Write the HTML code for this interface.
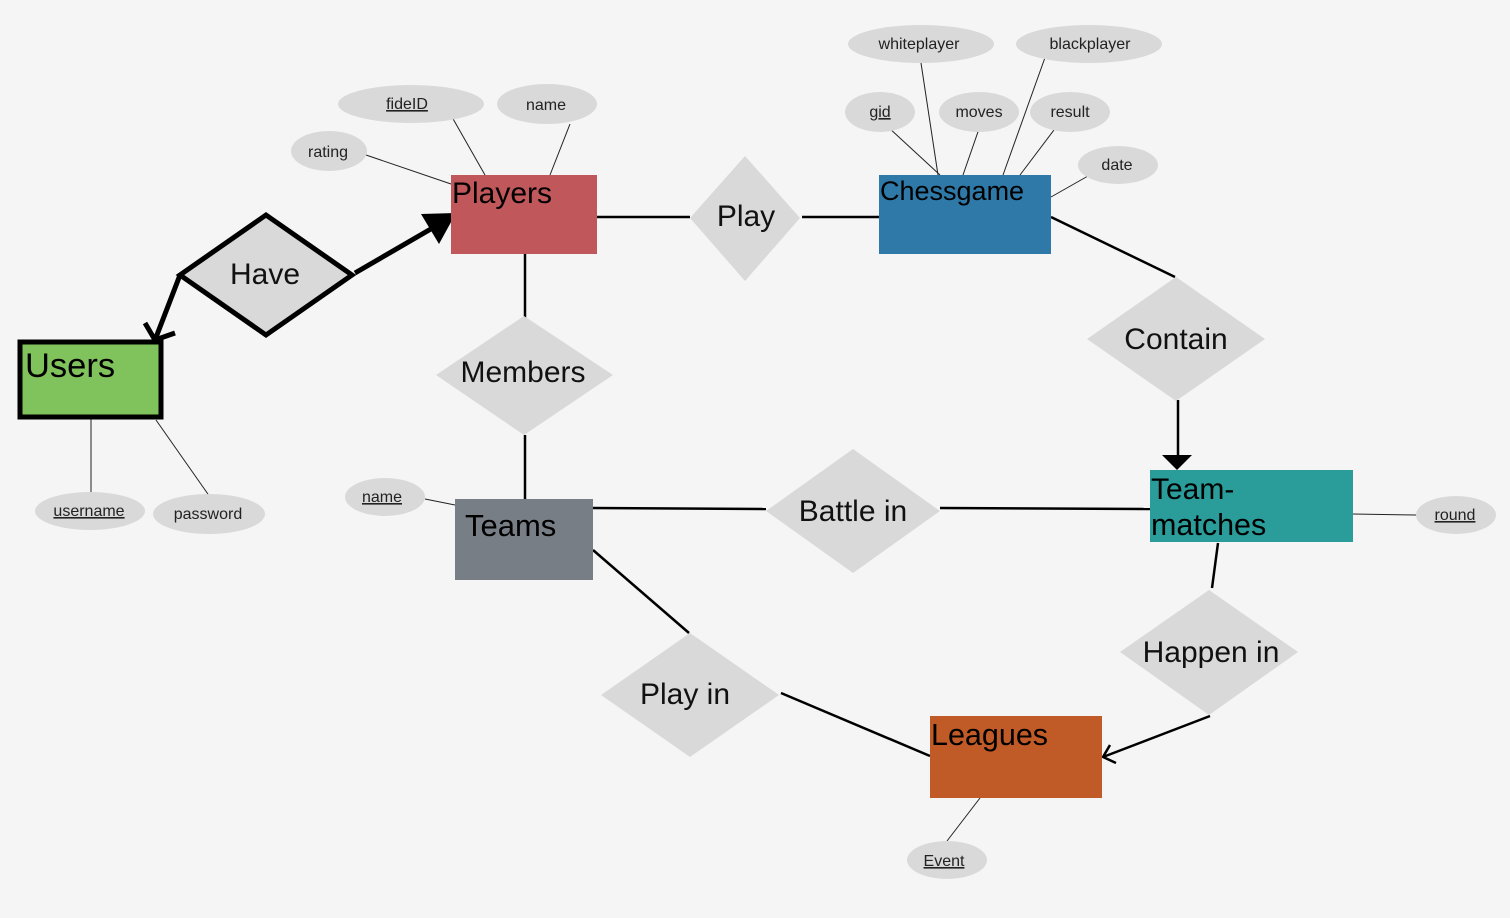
<!DOCTYPE html>
<html><head><meta charset="utf-8"><style>
html,body{margin:0;padding:0;background:#f5f5f5;}
svg{display:block;font-family:"Liberation Sans",sans-serif;}
.a{font-size:16px;fill:#222;text-anchor:middle;}
.e{fill:#000;}
.r{font-size:30px;fill:#111;text-anchor:middle;}
</style></head><body>
<svg width="1510" height="918" viewBox="0 0 1510 918" xmlns="http://www.w3.org/2000/svg">
<rect width="1510" height="918" fill="#f5f5f5"/>
<g stroke="#222" stroke-width="1" fill="none">
<line x1="452" y1="117" x2="485" y2="175"/>
<line x1="570" y1="124" x2="550" y2="175"/>
<line x1="366" y1="155" x2="451" y2="184"/>
<line x1="921" y1="63" x2="938" y2="175"/>
<line x1="1047" y1="52" x2="1003" y2="175"/>
<line x1="888" y1="127" x2="940" y2="175"/>
<line x1="980" y1="126" x2="963" y2="175"/>
<line x1="1057" y1="126" x2="1020" y2="175"/>
<line x1="1088" y1="176" x2="1051" y2="197"/>
<line x1="91" y1="417" x2="91" y2="492"/>
<line x1="156" y1="420" x2="210" y2="497"/>
<line x1="425" y1="499" x2="455" y2="505"/>
<line x1="1353" y1="514" x2="1416" y2="515"/>
<line x1="980" y1="798" x2="947" y2="841"/>
</g>
<g stroke="#000" stroke-width="2.5" fill="none">
<line x1="597" y1="217" x2="690" y2="217"/>
<line x1="802" y1="217" x2="879" y2="217"/>
<line x1="525" y1="254" x2="525" y2="320"/>
<line x1="525" y1="435" x2="525" y2="502"/>
<line x1="1051" y1="217" x2="1175" y2="277"/>
<line x1="1178" y1="400" x2="1178" y2="458"/>
<line x1="593" y1="508" x2="766" y2="509"/>
<line x1="940" y1="508" x2="1150" y2="509"/>
<line x1="1218" y1="543" x2="1212" y2="588"/>
<line x1="1210" y1="716" x2="1103" y2="757"/>
<polyline points="1116,763 1103,757 1110,745"/>
<line x1="593" y1="550" x2="689" y2="633"/>
<line x1="781" y1="693" x2="930" y2="756"/>
</g>
<polygon points="1162,455 1192,455 1177,470" fill="#000"/>
<g stroke="#000" stroke-width="5" fill="none">
<line x1="355" y1="273" x2="436" y2="226"/>
<polyline points="180,275 155,340"/>
<polyline points="145,323 155,340 175,333"/>
</g>
<polygon points="421,214 456,213 439,244" fill="#000"/>
<rect x="451" y="175" width="146" height="79" fill="#c0575a"/>
<rect x="879" y="175" width="172" height="79" fill="#2e79a7"/>
<rect x="20" y="342" width="141" height="75" fill="#80c25c" stroke="#000" stroke-width="5"/>
<rect x="455" y="499" width="138" height="81" fill="#787e85"/>
<rect x="1150" y="470" width="203" height="72" fill="#2a9c9a"/>
<rect x="930" y="716" width="172" height="82" fill="#c05a27"/>
<text x="452" y="203" class="e" style="font-size:30px">Players</text>
<text x="880" y="200" class="e" style="font-size:27px">Chessgame</text>
<text x="25" y="377" class="e" style="font-size:34.5px">Users</text>
<text x="465" y="536" class="e" style="font-size:31px">Teams</text>
<text x="1151" y="499" class="e" style="font-size:30px">Team-</text>
<text x="1151" y="535" class="e" style="font-size:30.5px">matches</text>
<text x="931" y="745" class="e" style="font-size:30.5px">Leagues</text>
<g fill="#d9d9d9">
<polygon points="745,156 800,218 745,281 690,218"/>
<polygon points="524,316 613,375 524,435 436,375"/>
<polygon points="1176,277 1265,339 1176,401 1087,339"/>
<polygon points="853,449 940,511 853,573 766,511"/>
<polygon points="1209,590 1298,652 1209,715 1120,652"/>
<polygon points="690,633 779,695 690,757 601,695"/>
</g>
<polygon points="266,215 352,275 266,335 180,275" fill="#d9d9d9" stroke="#000" stroke-width="5"/>
<text x="746" y="226" class="r">Play</text>
<text x="265" y="284" class="r">Have</text>
<text x="523" y="382" class="r">Members</text>
<text x="1176" y="349" class="r">Contain</text>
<text x="853" y="521" class="r">Battle in</text>
<text x="1211" y="662" class="r">Happen in</text>
<text x="685" y="704" class="r">Play in</text>
<g fill="#d9d9d9">
<ellipse cx="411" cy="104" rx="73" ry="19"/>
<ellipse cx="547" cy="104" rx="50" ry="20"/>
<ellipse cx="329" cy="151" rx="38" ry="20"/>
<ellipse cx="921" cy="44" rx="73" ry="19"/>
<ellipse cx="1089" cy="44" rx="73" ry="19"/>
<ellipse cx="880" cy="112" rx="35" ry="20"/>
<ellipse cx="979" cy="112" rx="40" ry="20"/>
<ellipse cx="1070" cy="112" rx="40" ry="20"/>
<ellipse cx="1118" cy="165" rx="40" ry="19"/>
<ellipse cx="90" cy="511" rx="55" ry="19"/>
<ellipse cx="209" cy="514" rx="56" ry="20"/>
<ellipse cx="385" cy="497" rx="40" ry="19"/>
<ellipse cx="1456" cy="515" rx="40" ry="19"/>
<ellipse cx="947" cy="860" rx="40" ry="19"/>
</g>
<text x="407" y="109" class="a" text-decoration="underline">fideID</text>
<text x="546" y="110" class="a">name</text>
<text x="328" y="157" class="a">rating</text>
<text x="919" y="49" class="a">whiteplayer</text>
<text x="1090" y="49" class="a">blackplayer</text>
<text x="880" y="117" class="a" text-decoration="underline">gid</text>
<text x="979" y="117" class="a">moves</text>
<text x="1070" y="117" class="a">result</text>
<text x="1117" y="170" class="a">date</text>
<text x="89" y="516" class="a" text-decoration="underline">username</text>
<text x="208" y="519" class="a">password</text>
<text x="382" y="502" class="a" text-decoration="underline">name</text>
<text x="1455" y="520" class="a" text-decoration="underline">round</text>
<text x="944" y="866" class="a" text-decoration="underline">Event</text>
</svg>
</body></html>
